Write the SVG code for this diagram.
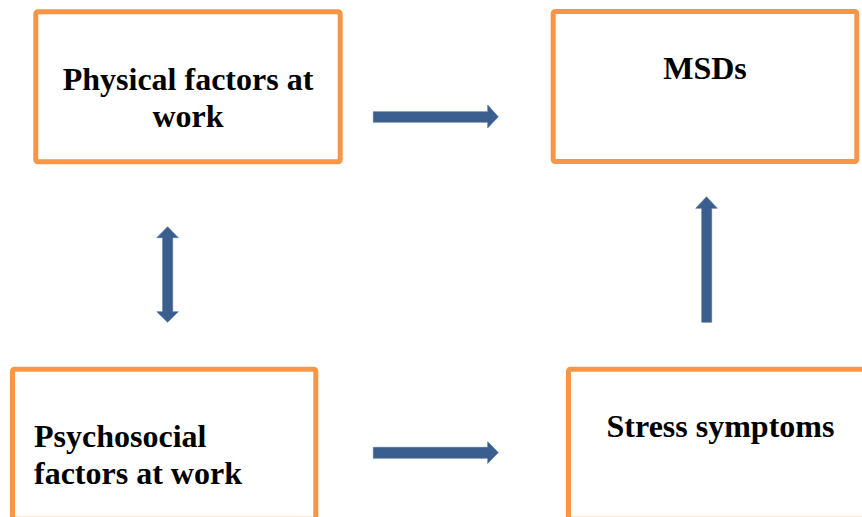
<svg xmlns="http://www.w3.org/2000/svg" width="862" height="517" viewBox="0 0 862 517">
<style>
.box{fill:#fff;stroke:#F79646;stroke-width:5}
.lbl{font-family:"Liberation Serif","Times New Roman",serif;font-weight:bold;font-size:32px;fill:#000}
.arr{fill:#3A5F8E;stroke:#4F6F98;stroke-width:0.6}
</style>
<rect width="862" height="517" fill="#fff"/>
<g id="node-physical">
<rect class="box" x="35.8" y="11.8" width="304.4" height="150" rx="2"/>
<text class="lbl" x="188" y="90" text-anchor="middle">Physical factors at</text>
<text class="lbl" x="188" y="127" text-anchor="middle">work</text>
</g>
<g id="node-msds">
<rect class="box" x="553.2" y="11.5" width="303.6" height="150" rx="2"/>
<text class="lbl" x="705" y="79" text-anchor="middle">MSDs</text>
</g>
<g id="node-psychosocial">
<rect class="box" x="12.5" y="369.2" width="303.3" height="150" rx="2"/>
<text class="lbl" x="34" y="447">Psychosocial</text>
<text class="lbl" x="34" y="484">factors at work</text>
</g>
<g id="node-stress">
<rect class="box" x="568.5" y="369.2" width="304" height="150" rx="2"/>
<text class="lbl" x="720.5" y="437" text-anchor="middle">Stress symptoms</text>
</g>
<g id="connectors">
<polygon class="arr" points="373.3,111.7 487.7,111.7 487.7,105 498.3,116.8 487.7,128 487.7,122.3 373.3,122.3"/>
<polygon class="arr" points="373.3,447.3 487.7,447.3 487.7,441.7 498.3,452.6 487.7,463.5 487.7,458.3 373.3,458.3"/>
<polygon class="arr" points="701.7,322.3 701.7,208.3 695.7,208.3 706.5,196.7 717.3,208.3 711.7,208.3 711.7,322.3"/>
<polygon class="arr" points="167.6,226.7 178.3,237.7 172.7,237.7 172.7,311.7 178.3,311.7 167.6,322.3 156.8,311.7 162.6,311.7 162.6,237.7 156.8,237.7"/>
</g>
</svg>
